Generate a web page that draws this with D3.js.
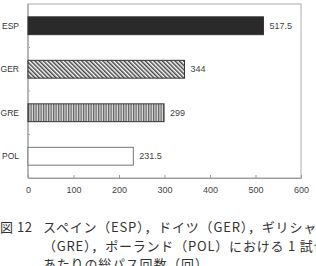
<!DOCTYPE html>
<html>
<head>
<meta charset="utf-8">
<script src="https://cdn.jsdelivr.net/npm/d3@7"></script>
<style>
  body { margin: 0; background: #fff; }
  svg { display: block; }
  text { font-family: "Liberation Sans", Arial, sans-serif; }
  .cap { font-family: "Noto Sans CJK JP", sans-serif; font-size: 13px; fill: #333; }
</style>
</head>
<body>
<div id="chart"></div>
<script>
// data
const countries = ["ESP", "GER", "GRE", "POL"];
const passes = [517.5, 344, 299, 231.5];
const xTicks = [0, 100, 200, 300, 400, 500, 600];
const fills = ["#2a2a2a", "url(#hatch)", "url(#vlines)", "#fff"];
const captionLines = [
  ["図 12", "スペイン（ESP），ドイツ（GER），ギリシャ"],
  ["", "（GRE），ポーランド（POL）における 1 試合"],
  ["", "あたりの総パス回数（回）"]
];

const W = 316, H = 266;
const margin = {top: 4, right: 15, bottom: 88, left: 28},
    width = W - margin.left - margin.right,
    height = H - margin.top - margin.bottom;

const root = d3.select("#chart").append("svg")
    .attr("width", W)
    .attr("height", H);

// patterns for the bars
const defs = root.append("defs");
defs.append("pattern")
    .attr("id", "hatch")
    .attr("patternUnits", "userSpaceOnUse")
    .attr("width", 3).attr("height", 3)
    .attr("patternTransform", "rotate(-45)")
  .call(p => {
    p.append("rect").attr("width", 3).attr("height", 3).attr("fill", "#fff");
    p.append("rect").attr("width", 1.5).attr("height", 3).attr("fill", "#444");
  });
defs.append("pattern")
    .attr("id", "vlines")
    .attr("patternUnits", "userSpaceOnUse")
    .attr("width", 2.5).attr("height", 4)
  .call(p => {
    p.append("rect").attr("width", 2.5).attr("height", 4).attr("fill", "#ddd");
    p.append("rect").attr("width", 1.3).attr("height", 4).attr("fill", "#666");
  });

const svg = root.append("g")
    .attr("transform", `translate(${margin.left},${margin.top})`);

const x = d3.scaleLinear().domain([0, 600]).range([0, width]);
const y = d3.scaleBand().domain(countries).range([0, height]).paddingInner(0.59).paddingOuter(0.295);
const yb = d3.scaleBand().domain(countries).range([0, height]);

// frame
svg.append("rect")
    .attr("width", width).attr("height", height)
    .attr("fill", "none").attr("stroke", "#aaa").attr("stroke-width", 1);

// bottom axis, ticks pointing inward
const xAxis = svg.append("g")
    .attr("transform", `translate(0,${height})`)
    .call(d3.axisBottom(x).tickValues(xTicks).tickSizeInner(-3).tickSizeOuter(0).tickPadding(9));
xAxis.select(".domain").attr("stroke", "#999");
xAxis.selectAll(".tick line").attr("stroke", "#999");
xAxis.selectAll("text").attr("fill", "#444").style("font-size", "9px");

// left axis line + minor ticks at band edges
svg.append("line").attr("x1", 0).attr("x2", 0).attr("y1", 0).attr("y2", height)
    .attr("stroke", "#999");
svg.selectAll(".minor")
  .data(countries.slice(1))
  .join("line")
    .attr("x1", 0).attr("x2", 2)
    .attr("y1", d => yb(d)).attr("y2", d => yb(d))
    .attr("stroke", "#aaa");

// category labels
svg.selectAll(".cat")
  .data(countries)
  .join("text")
    .attr("x", -9)
    .attr("y", d => y(d) + y.bandwidth() / 2)
    .attr("dy", "0.35em")
    .attr("text-anchor", "end")
    .attr("fill", "#333")
    .style("font-size", "8.5px")
    .text(d => d);

// bars
svg.selectAll(".bar")
  .data(countries)
  .join("rect")
    .attr("x", 0)
    .attr("y", d => y(d))
    .attr("width", (d, i) => x(passes[i]))
    .attr("height", y.bandwidth())
    .attr("fill", (d, i) => fills[i])
    .attr("stroke", (d, i) => i == 3 ? "#777" : "#333")
    .attr("stroke-width", 1);

// value labels
svg.selectAll(".val")
  .data(countries)
  .join("text")
    .attr("x", (d, i) => x(passes[i]) + 6)
    .attr("y", d => y(d) + y.bandwidth() / 2)
    .attr("dy", "0.35em")
    .attr("fill", "#444")
    .style("font-size", "9px")
    .text((d, i) => passes[i]);

// caption (the source figure is cropped at the right and bottom)
const cap = root.append("g");
captionLines.forEach((l, i) => {
  cap.append("text").attr("class", "cap")
      .attr("x", 0).attr("y", 232 + i * 18.5)
      .style("letter-spacing", "0.5px")
      .text(l[0]);
  cap.append("text").attr("class", "cap")
      .attr("x", 43).attr("y", 232 + i * 18.5)
      .style("letter-spacing", "0.8px")
      .text(l[1]);
});
</script>
</body>
</html>
